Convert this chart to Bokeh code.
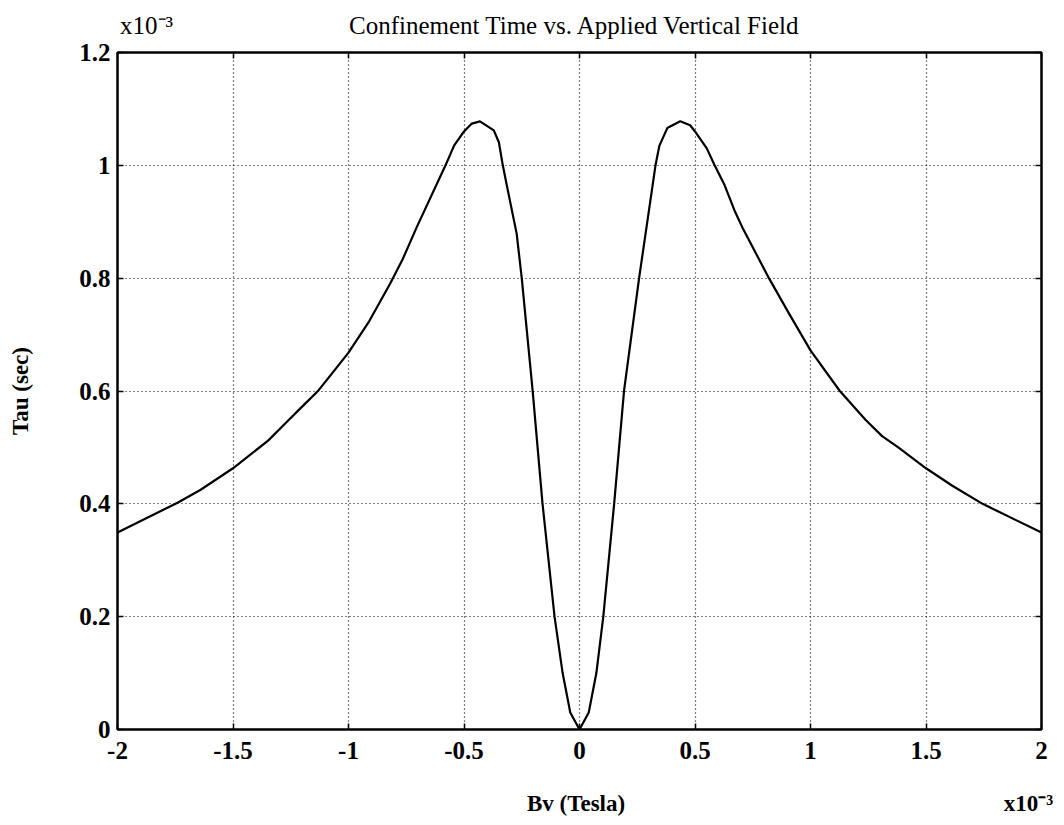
from bokeh.plotting import figure
from bokeh.models import Range1d, FixedTicker, LinearAxis, CustomJSTickFormatter
from bokeh.embed import file_html
from bokeh.resources import INLINE

# Bv in units of 1e-3 Tesla, Tau in units of 1e-3 s
bv = [-2.0, -1.74, -1.64, -1.5, -1.348, -1.26, -1.204, -1.13, -1.06, -1.0, -0.91,
      -0.82, -0.765, -0.705, -0.58, -0.543,
      -0.5, -0.466, -0.431, -0.371, -0.349, -0.332, -0.315, -0.272, -0.25, -0.203,
      -0.16, -0.108, -0.073, -0.04, 0.0,
      0.04, 0.073, 0.103, 0.15, 0.193, 0.258, 0.329, 0.346, 0.38, 0.436, 0.479,
      0.5, 0.551, 0.585, 0.628, 0.671, 0.705, 0.82, 0.906, 1.0, 1.127, 1.24, 1.31,
      1.38, 1.5, 1.614, 1.745, 1.82, 2.0]
tau = [0.349, 0.402, 0.425, 0.463, 0.512, 0.548, 0.571, 0.601, 0.637, 0.668, 0.724,
       0.79, 0.834, 0.89, 1.0, 1.035,
       1.060, 1.074, 1.078, 1.062, 1.041, 1.0, 0.965, 0.879, 0.80, 0.601,
       0.40, 0.20, 0.10, 0.03, 0.0,
       0.03, 0.10, 0.20, 0.40, 0.601, 0.80, 1.0, 1.035, 1.066, 1.078, 1.071,
       1.060, 1.030, 1.0, 0.965, 0.92, 0.89, 0.80, 0.738, 0.672, 0.60, 0.548, 0.52,
       0.500, 0.463, 0.432, 0.40, 0.385, 0.349]

x_ticks = [-2, -1.5, -1, -0.5, 0, 0.5, 1, 1.5, 2]
x_tick_labels = ["-2", "-1.5", "-1", "-0.5", "0", "0.5", "1", "1.5", "2"]
y_ticks = [0, 0.2, 0.4, 0.6, 0.8, 1, 1.2]
y_tick_labels = ["0", "0.2", "0.4", "0.6", "0.8", "1", "1.2"]

title_text = "Confinement Time vs. Applied Vertical Field"
x_label_text = "Bv (Tesla)"
y_label_text = "Tau (sec)"
exp_text = "x10\u207b\u00b3"

# where the header / footer texts sit along the Bv axis
top_text_at = [-1.874, -0.02]
top_texts = [exp_text, title_text]
bottom_text_at = [-0.015, 1.944]
bottom_texts = [x_label_text, exp_text]

FONT = "Liberation Serif"

p = figure(width=1064, height=825, output_backend="svg", toolbar_location=None,
           x_range=Range1d(-2, 2), y_range=Range1d(0, 1.2),
           min_border_left=117, min_border_right=23, min_border_top=52,
           min_border_bottom=96)
p.background_fill_color = "white"
p.border_fill_color = "white"
p.outline_line_color = "black"
p.outline_line_width = 2

fmt_code = ("const i = tvals.findIndex(t => Math.abs(t - tick) < 1e-9);"
            "return i >= 0 ? tlabels[i] : '';")
blank_code = "return '';"

def style_axis(ax, tick_values, labels=None, standoff=8, size="25px"):
    ax.ticker = FixedTicker(ticks=tick_values)
    if labels is None:
        ax.formatter = CustomJSTickFormatter(code=blank_code)
    else:
        ax.formatter = CustomJSTickFormatter(args=dict(tvals=tick_values, tlabels=labels),
                                             code=fmt_code)
    ax.axis_line_color = "black"
    ax.axis_line_width = 2
    ax.major_tick_in = 6
    ax.major_tick_out = 0
    ax.major_tick_line_color = "black"
    ax.major_tick_line_width = 1.5
    ax.minor_tick_line_color = None
    ax.major_label_text_font = FONT
    ax.major_label_text_font_style = "bold"
    ax.major_label_text_font_size = size
    ax.major_label_text_color = "black"
    ax.major_label_standoff = standoff

style_axis(p.xaxis[0], x_ticks, x_tick_labels, standoff=12)
style_axis(p.yaxis[0], y_ticks, y_tick_labels, standoff=7)

yax = p.yaxis[0]
yax.axis_label = y_label_text
yax.axis_label_text_font = FONT
yax.axis_label_text_font_style = "bold"
yax.axis_label_text_font_size = "23px"
yax.axis_label_text_color = "black"
yax.axis_label_standoff = 43

top_axis = LinearAxis()
style_axis(top_axis, x_ticks, standoff=0, size="1px")
p.add_layout(top_axis, "above")
right_axis = LinearAxis()
style_axis(right_axis, y_ticks, standoff=0, size="1px")
p.add_layout(right_axis, "right")

def text_axis(positions, texts, standoff, style, size):
    ax = LinearAxis()
    style_axis(ax, positions, texts, standoff=standoff, size=size)
    ax.axis_line_color = None
    ax.major_tick_line_color = None
    ax.major_label_text_font_style = style
    return ax

p.add_layout(text_axis(top_text_at, top_texts, 14, "normal", "25px"), "above")
p.add_layout(text_axis(bottom_text_at, bottom_texts, 29, "bold", "23px"), "below")

for g, tick_values in ((p.xgrid[0], x_ticks), (p.ygrid[0], y_ticks)):
    g.ticker = FixedTicker(ticks=tick_values)
    g.grid_line_color = "black"
    g.grid_line_width = 1.2
    g.grid_line_dash = "1 3"
    g.grid_line_alpha = 1.0

p.line(bv, tau, line_color="black", line_width=2.2)

open("out.html", "w").write(file_html(p, INLINE))
